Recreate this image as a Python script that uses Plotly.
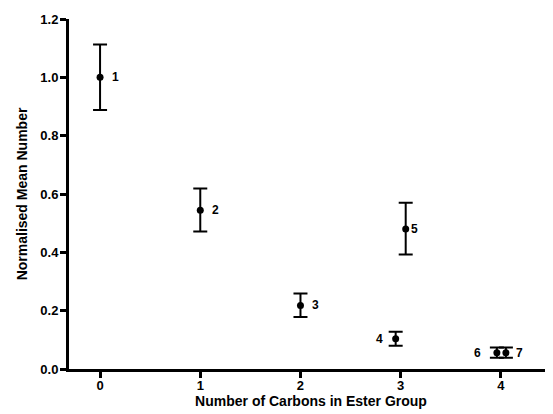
import plotly.graph_objects as go

carbons = [0, 1, 2, 2.95, 3.05, 3.96, 4.05]
mean_number = [1.0, 0.544, 0.218, 0.104, 0.48, 0.056, 0.056]
err_plus = [0.113, 0.075, 0.041, 0.024, 0.09, 0.018, 0.018]
err_minus = [0.112, 0.073, 0.040, 0.024, 0.087, 0.017, 0.017]
labels = ["1", "2", "3", "4", "5", "6", "7"]
label_shift = [15, 15, 15, -16, 9, -19, 14]

FONT = "Liberation Sans, Arial, Helvetica, sans-serif"

fig = go.Figure()
fig.add_trace(go.Scatter(
    x=carbons, y=mean_number, mode="markers",
    marker=dict(color="black", size=7),
    error_y=dict(type="data", symmetric=False, array=err_plus, arrayminus=err_minus,
                 color="black", thickness=2, width=7),
    showlegend=False, hoverinfo="skip",
))
for xv, yv, lab, sh in zip(carbons, mean_number, labels, label_shift):
    fig.add_annotation(x=xv, y=yv, text=lab, showarrow=False, xshift=sh,
                       font=dict(family=FONT, size=12, color="black", weight="bold"))

tick_font = dict(family=FONT, size=13, color="black", weight="bold")
title_font = dict(family=FONT, size=14, color="black", weight="bold")
fig.update_layout(
    width=545, height=406,
    margin=dict(l=61, r=0, t=11, b=45),
    plot_bgcolor="white", paper_bgcolor="white",
    font=dict(family=FONT, color="black"),
    xaxis=dict(range=[-0.31, 4.52], tickvals=[0, 1, 2, 3, 4], showgrid=False, zeroline=False,
               showline=True, linecolor="black", linewidth=3, ticks="outside", ticklen=6,
               tickwidth=3, tickcolor="black", tickfont=tick_font, ticklabelstandoff=-4,
               title=dict(text="Number of Carbons in Ester Group", font=title_font, standoff=4)),
    yaxis=dict(range=[0, 1.2], tickvals=[0, 0.2, 0.4, 0.6, 0.8, 1.0, 1.2], tickformat=".1f",
               showgrid=False, zeroline=False,
               showline=True, linecolor="black", linewidth=3, ticks="outside", ticklen=6,
               tickwidth=3, tickcolor="black", tickfont=tick_font, ticklabelstandoff=-1,
               title=dict(text="Normalised Mean Number", font=title_font, standoff=10)),
)
fig.write_html("out.html")
